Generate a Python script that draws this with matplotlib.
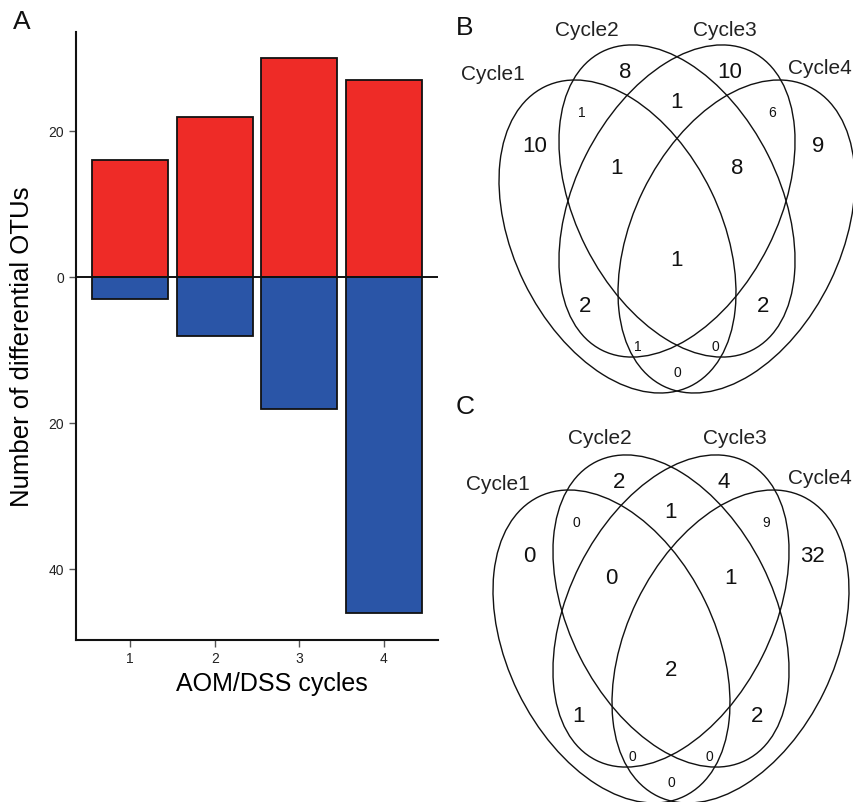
import matplotlib.pyplot as plt
from matplotlib.patches import Ellipse
from matplotlib.ticker import FuncFormatter

plt.rcParams['font.family'] = ['Liberation Sans', 'DejaVu Sans']

# panel A data
cycles = [1, 2, 3, 4]
up_otus = [16, 22, 30, 27]
down_otus = [3, 8, 18, 46]

# panels B and C data
set_names = ['Cycle1', 'Cycle2', 'Cycle3', 'Cycle4']
regions = ['1', '2', '3', '4', '12', '13', '14', '23', '24', '34',
           '123', '124', '134', '234', '1234']
counts_b = [10, 8, 10, 9, 1, 2, 0, 1, 2, 6, 1, 0, 1, 8, 1]
counts_c = [0, 2, 4, 32, 0, 1, 0, 1, 2, 9, 0, 0, 0, 1, 2]

W, H = 854, 802
fig = plt.figure(figsize=(W / 100, H / 100), dpi=100)

# overlay in pixel coords for letters and venns
ov = fig.add_axes([0, 0, 1, 1])
ov.set_xlim(0, W)
ov.set_ylim(H, 0)
ov.axis('off')

# ---- panel A ----
ax = fig.add_axes([76 / W, 1 - 640 / H, 362 / W, 608 / H])
ax.bar(cycles, up_otus, width=0.9, color='#EE2B27', edgecolor='#111111', linewidth=1.3, zorder=2)
ax.bar(cycles, [-d for d in down_otus], width=0.9, color='#2A55A7', edgecolor='#111111',
       linewidth=1.3, zorder=2)
ax.axhline(0, color='#111111', lw=1.4, zorder=3)
ax.set_xlim(0.36, 4.64)
ax.set_ylim(-49.7, 33.6)
ax.set_xticks(cycles)
ax.set_yticks([-40, -20, 0, 20])
ax.yaxis.set_major_formatter(FuncFormatter(lambda v, p: '%d' % abs(round(v))))
for s in ['top', 'right']:
    ax.spines[s].set_visible(False)
for s in ['left', 'bottom']:
    ax.spines[s].set_linewidth(1.5)
    ax.spines[s].set_color('#111111')
ax.tick_params(axis='both', labelsize=10, length=5, width=1, color='#555555', labelcolor='#222222')
ax.set_xlabel('AOM/DSS cycles', fontsize=18)
ax.xaxis.set_label_coords((272 - 76) / 362, -0.052)
ax.set_ylabel('Number of differential OTUs', fontsize=18.5, va='center')
ax.yaxis.set_label_coords((22 - 76) / 362, (640 - 347) / 608)

# ---- venn layout (pixels, relative to diagram centre line) ----
ellipses = [(-59.5, 236.5, 64.1), (0, 201, 63.3), (0, 201, -63.3), (59.5, 236.5, -64.1)]
axes_ab = [(333, 208), (334, 204), (334, 204), (333, 208)]
spots = {'1': (-142, 147), '2': (-52, 72), '3': (53, 72), '4': (141, 147),
         '12': (-95, 113), '34': (95, 113), '23': (0, 102),
         '123': (-60, 168), '234': (60, 168), '1234': (0, 260),
         '13': (-92, 307), '24': (86, 307), '134': (-39, 347),
         '124': (38, 347), '14': (0, 373)}
small = ['12', '34', '134', '124', '14']


def venn(cx, cy, counts, label_xy):
    for (ex, ey, ang), (w, h) in zip(ellipses, axes_ab):
        ov.add_patch(Ellipse((cx + ex, cy + ey), w, h, angle=ang, fill=False,
                             edgecolor='#111111', lw=1.0))
    for r, n in zip(regions, counts):
        dx, dy = spots[r]
        ov.text(cx + dx, cy + dy, str(n), ha='center', va='center',
                fontsize=10 if r in small else 16, color='#111111')
    for name, (lx, ly) in zip(set_names, label_xy):
        ov.text(lx, ly, name, ha='center', va='center', fontsize=15, color='#222222')


venn(677, 0, counts_b, [(493, 75), (587, 30), (725, 30), (820, 68)])
venn(671, 410, counts_c, [(498, 485), (600, 438), (735, 438), (820, 478)])

for letter, (x, y) in zip(['A', 'B', 'C'], [(22, 22), (465, 28), (465, 407)]):
    ov.text(x, y, letter, ha='center', va='center', fontsize=19, color='#111111')

fig.savefig('out.png', dpi=100)
